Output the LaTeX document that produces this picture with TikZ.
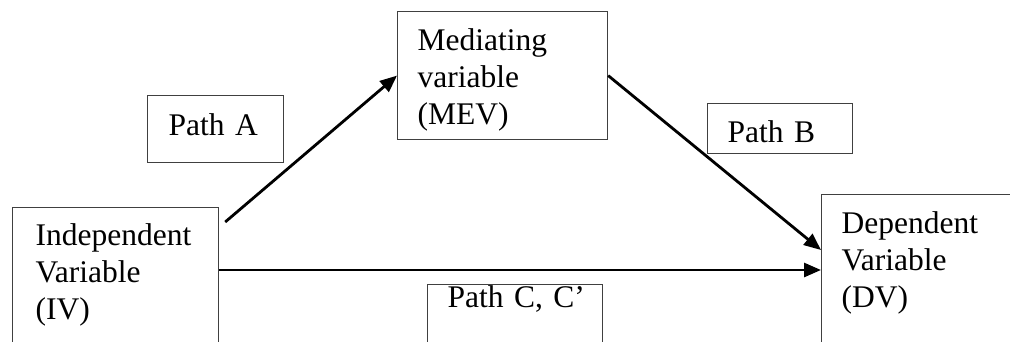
\documentclass[tikz,border=0pt]{standalone}
\usepackage{fontspec}
\setmainfont{Liberation Serif}
\usetikzlibrary{arrows.meta}

\begin{document}
\begin{tikzpicture}[x=1pt, y=-1pt,
    varbox/.style={draw=black!75, line width=1.2pt, anchor=north west, align=left,
        inner ysep=0pt, font=\fontsize{31.5}{37}\selectfont},
    arr/.style={line width=2.8pt, -{Triangle[length=17pt,width=14pt]}}]
    \useasboundingbox (0,0) rectangle (1010,341);
    \clip (0,0) rectangle (1010,341);

    % Variabili
    \node[varbox, inner xsep=23pt, text width=160pt, text height=38pt, text depth=150pt] (iv) at (12,207)
        {Independent\\Variable\\(IV)};
    \node[varbox, inner xsep=20pt, text width=170pt, text height=39pt, text depth=89pt] (mev) at (397,11)
        {Mediating\\variable\\(MEV)};
    \node[varbox, inner xsep=20pt, text width=200pt, text height=39pt, text depth=150pt] (dv) at (821,194)
        {Dependent\\Variable\\(DV)};

    % Etichette dei percorsi
    \node[varbox, inner xsep=21pt, text width=94pt, text height=40pt, text depth=27pt] (pa) at (147,95) {Path A};
    \node[varbox, inner xsep=20pt, text width=105pt, text height=39pt, text depth=11pt] (pb) at (707,103) {Path B};
    \node[varbox, inner xsep=20pt, text width=135pt, text height=23pt, text depth=100pt] (pc) at (427,284)
        {\mbox{Path C, C'}};

    % Frecce
    \draw[arr] ([shift={(6pt,-15pt)}]iv.north east) -- (mev.west);
    \draw[arr] (mev.east) -- ([yshift=-56pt]dv.north west);
    \draw[arr] ([yshift=-63pt]iv.north east) -- ([yshift=-63pt]iv.north east -| dv.west);
\end{tikzpicture}
\end{document}
